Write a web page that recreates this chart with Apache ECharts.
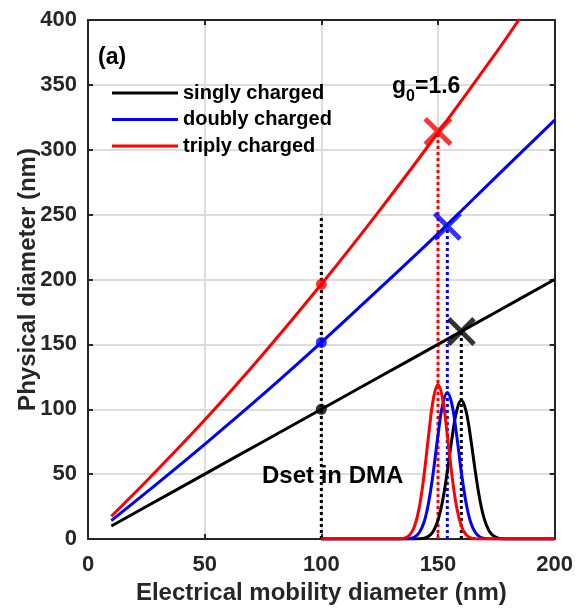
<!DOCTYPE html>
<html><head><meta charset="utf-8">
<script src="https://cdn.jsdelivr.net/npm/echarts@6/dist/echarts.min.js"></script>
<style>html,body{margin:0;padding:0;background:#fff}#c{width:576px;height:610px}</style>
</head><body><div id="c"></div>
<script>
// ---- data ----
const mobilityDiam = [10, 25, 50, 75, 100, 125, 150, 175, 200];
const singlyDp = [10, 25, 50, 75, 100, 125, 150, 175, 200];
const doublyDp = [14.2, 35.9, 73, 111.4, 151.5, 193.1, 235.4, 279.3, 322.8];
const triplyMobility = [10, 25, 50, 75, 100, 125, 150, 175, 185];
const triplyDp = [17.5, 44.5, 91.7, 142.4, 196.3, 253.3, 313.1, 375, 401];

const blackPeakX = [100, 140, 142, 144, 146, 148, 150, 152, 154, 156, 158, 160, 162, 164, 166, 168, 170, 172, 174, 176, 178, 180, 200];
const blackPeakY = [0, 0, 0.2, 0.6, 2.1, 6.0, 14.5, 29.7, 52.1, 77.7, 98.8, 107, 98.8, 77.7, 52.1, 29.7, 14.5, 6.0, 2.1, 0.6, 0.2, 0, 0];
const bluePeakX = [100, 134, 136, 138, 140, 142, 144, 146, 148, 150, 152, 154, 156, 158, 160, 162, 164, 166, 168, 170, 172, 174, 200];
const bluePeakY = [0, 0, 0.1, 0.4, 1.6, 5.0, 12.9, 28.2, 51.7, 79.9, 103.6, 113, 103.6, 79.9, 51.7, 28.2, 12.9, 5.0, 1.6, 0.4, 0.1, 0, 0];
const redPeakX = [100, 132, 134, 136, 138, 140, 142, 144, 146, 148, 150, 152, 154, 156, 158, 160, 162, 164, 166, 168, 200];
const redPeakY = [0, 0, 0.2, 0.9, 3.4, 10.1, 24.5, 48.9, 80.2, 107.8, 119, 107.8, 80.2, 48.9, 24.5, 10.1, 3.4, 0.9, 0.2, 0, 0];

const dsetPoints = [[100, 100], [100, 151.5], [100, 196.3]];          // black, blue, red dots
const crossPoints = [[160, 160], [154, 241], [150, 314]];             // black, blue, red crosses
const dottedX = [100, 150, 154, 160];
const dottedTop = [250, 314, 241, 160];

const xTicks = [0, 50, 100, 150, 200];
const yTicks = [0, 50, 100, 150, 200, 250, 300, 350, 400];
const legendNames = ['singly charged', 'doubly charged', 'triply charged'];

// ---- chart ----
const FONT = '"Liberation Sans", Arial, Helvetica, sans-serif';
const AX = '#262626';
const BLACK = '#000000', BLUE = '#0000ff', RED = '#ff0000';
const lineColors = [BLACK, BLUE, RED];
const dottedColors = [BLACK, RED, BLUE, BLACK];
const pairs = (xs, ys) => xs.map((x, i) => [x, ys[i]]);
const CROSS = 'path://M2.4,0L10,7.6L17.6,0L20,2.4L12.4,10L20,17.6L17.6,20L10,12.4L2.4,20L0,17.6L7.6,10L0,2.4Z';

const chart = echarts.init(document.getElementById('c'), null, {renderer: 'canvas'});

const axisCommon = {
  type: 'value',
  axisLine: {show: true, onZero: false, lineStyle: {color: AX, width: 2}},
  axisTick: {show: true, inside: true, length: 5, lineStyle: {color: AX, width: 2}}
};

const series = [];
dottedX.forEach((x, i) => {
  series.push({
    type: 'line', silent: true, showSymbol: false, z: 2,
    data: [[x, 0], [x, dottedTop[i]]],
    lineStyle: {color: dottedColors[i], width: 3, type: [3, 3]}
  });
});
const mainData = [pairs(mobilityDiam, singlyDp), pairs(mobilityDiam, doublyDp), pairs(triplyMobility, triplyDp)];
mainData.forEach((d, i) => {
  series.push({
    name: legendNames[i], type: 'line', smooth: 0.3, showSymbol: false, z: 3,
    data: d, itemStyle: {color: lineColors[i]},
    lineStyle: {color: lineColors[i], width: 3}
  });
});
[[blackPeakX, blackPeakY, BLACK], [bluePeakX, bluePeakY, BLUE], [redPeakX, redPeakY, RED]].forEach(([xs, ys, c]) => {
  series.push({
    type: 'line', smooth: 0.4, showSymbol: false, z: 3,
    data: pairs(xs, ys), lineStyle: {color: c, width: 3}, itemStyle: {color: c}
  });
});
dsetPoints.forEach((p, i) => {
  series.push({type: 'scatter', z: 4, symbol: 'circle', symbolSize: 11, data: [p], itemStyle: {color: lineColors[i]}});
});
crossPoints.forEach((p, i) => {
  series.push({type: 'scatter', z: 4, symbol: CROSS, symbolSize: 29, symbolKeepAspect: true, data: [p], itemStyle: {color: lineColors[i]}});
});

const option = {
  animation: false,
  backgroundColor: '#ffffff',
  textStyle: {fontFamily: FONT},
  grid: {left: 88, right: 20, top: 20, bottom: 70, containLabel: false},
  xAxis: [
    Object.assign({}, axisCommon, {
      position: 'bottom', min: xTicks[0], max: xTicks[xTicks.length - 1], interval: 50,
      name: 'Electrical mobility diameter (nm)', nameLocation: 'middle', nameGap: 42, nameMoveOverlap: false,
      nameTextStyle: {fontFamily: FONT, fontWeight: 'bold', fontSize: 24, color: AX},
      axisLabel: {margin: 15, fontFamily: FONT, fontWeight: 'bold', fontSize: 22, color: AX},
      splitLine: {show: true, lineStyle: {color: '#dddddd', width: 2}}
    }),
    Object.assign({}, axisCommon, {
      position: 'top', min: 0, max: 200, interval: 50,
      axisLabel: {show: false}, splitLine: {show: false}
    })
  ],
  yAxis: [
    Object.assign({}, axisCommon, {
      position: 'left', min: yTicks[0], max: yTicks[yTicks.length - 1], interval: 50,
      name: 'Physical diameter (nm)', nameLocation: 'middle', nameGap: 48, nameRotate: 90, nameMoveOverlap: false,
      nameTextStyle: {fontFamily: FONT, fontWeight: 'bold', fontSize: 24, color: AX},
      axisLabel: {margin: 11, fontFamily: FONT, fontWeight: 'bold', fontSize: 22, color: AX},
      splitLine: {show: true, lineStyle: {color: '#dddddd', width: 2}}
    }),
    Object.assign({}, axisCommon, {
      position: 'right', min: 0, max: 400, interval: 50,
      axisLabel: {show: false}, splitLine: {show: false}
    })
  ],
  legend: {
    orient: 'vertical', left: 107, top: 78, z: 10,
    data: legendNames, icon: 'rect', itemWidth: 66, itemHeight: 3, itemGap: 6.5,
    textStyle: {fontFamily: FONT, fontWeight: 'bold', fontSize: 20, color: '#000'},
    selectedMode: false
  },
  graphic: [
    {type: 'text', z: 100, left: 98, top: 46, style: {text: '(a)', font: 'bold 23px ' + FONT, fill: '#000'}},
    {type: 'text', z: 100, left: 392, top: 75, style: {text: 'g', font: 'bold 23px ' + FONT, fill: '#000'}},
    {type: 'text', z: 100, left: 406, top: 89, style: {text: '0', font: 'bold 16px ' + FONT, fill: '#000'}},
    {type: 'text', z: 100, left: 415, top: 75, style: {text: '=1.6', font: 'bold 23px ' + FONT, fill: '#000'}},
    {type: 'text', z: 100, left: 262, top: 464, style: {text: 'Dset in DMA', font: 'bold 24px ' + FONT, fill: '#000'}}
  ],
  series: series
};
chart.setOption(option);
</script>
</body></html>
